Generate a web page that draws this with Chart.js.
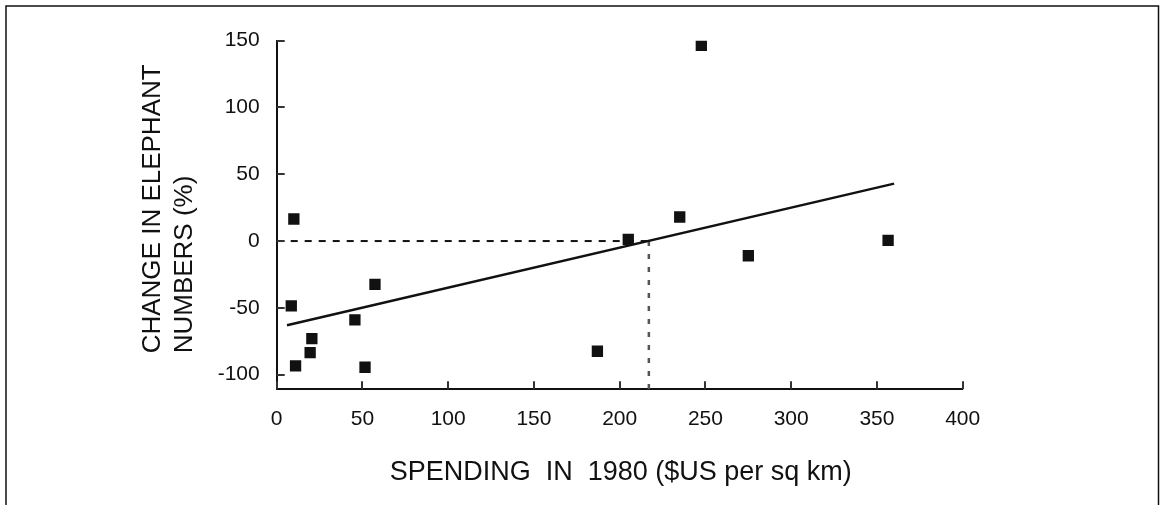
<!DOCTYPE html>
<html>
<head>
<meta charset="utf-8">
<script src="https://cdn.jsdelivr.net/npm/chart.js@4/dist/chart.umd.min.js"></script>
<style>
    html, body { margin: 0; padding: 0; background: #fff; }
    #wrap { width: 1160px; height: 505px; }
</style>
</head>
<body>
<div id="wrap"><canvas id="elephantChart" width="1160" height="505"></canvas></div>
<script>
// spending per sq km (1980) vs change in elephant numbers
const spending = [247.6, 235, 205, 275, 356.5, 187, 10, 8.5, 20.5, 19.5, 11, 51.5, 45.6, 57.3];
const change   = [146.5, 18, 1.3, -11, 0.5, -82.5, 16.5, -48.5, -73, -83.5, -93.5, -94.5, -59, -32.5];

// fitted line end points
const trendX = [6, 360];
const trendY = [-63, 43];

// break-even spending (where the fit crosses 0)
const breakEvenX = 217;
const yAxisMin = -111;

const xTicks = [0, 50, 100, 150, 200, 250, 300, 350, 400];
const yTicks = [-100, -50, 0, 50, 100, 150];

const xTitle = 'SPENDING  IN  1980 ($US per sq km)';
const yTitle = ['CHANGE IN ELEPHANT', 'NUMBERS (%)'];

const FONT = '"Liberation Sans", Arial, sans-serif';

const inkPlugin = {
    id: 'ink',
    beforeDraw(chart) {
        const ctx = chart.ctx;
        ctx.save();
        ctx.strokeStyle = '#111';
        ctx.lineWidth = 1.5;
        ctx.strokeRect(6, 6, 1152.5, 520);
        ctx.restore();
    },
    afterDraw(chart) {
        const ctx = chart.ctx;
        const area = chart.chartArea;
        const xs = chart.scales.x, ys = chart.scales.y;
        ctx.save();
        // inward tick marks
        ctx.strokeStyle = '#333';
        ctx.lineWidth = 2;
        xTicks.forEach(v => {
            const px = Math.round(xs.getPixelForValue(v));
            ctx.beginPath();
            ctx.moveTo(px, area.bottom);
            ctx.lineTo(px, area.bottom - 8);
            ctx.stroke();
        });
        yTicks.forEach(v => {
            const py = Math.round(ys.getPixelForValue(v));
            ctx.beginPath();
            ctx.moveTo(area.left, py);
            ctx.lineTo(area.left + 8, py);
            ctx.stroke();
        });

        // axis titles
        ctx.fillStyle = '#111';
        ctx.font = '27px ' + FONT;
        ctx.textAlign = 'left';
        ctx.textBaseline = 'alphabetic';
        ctx.fillText(xTitle, area.left + 113, area.bottom + 91);

        ctx.font = '26px ' + FONT;
        ctx.translate(area.left - 124, area.bottom - 36);
        ctx.rotate(-Math.PI / 2);
        ctx.textBaseline = 'middle';
        ctx.fillText(yTitle[0], 0, 0);
        ctx.fillText(yTitle[1], 0, 32);
        ctx.restore();
    }
};

const points = spending.map((x, i) => ({ x: x, y: change[i] }));

new Chart(document.getElementById('elephantChart'), {
    type: 'scatter',
    data: {
        datasets: [
            {
                data: points,
                pointStyle: 'rect',
                pointRadius: 8,
                backgroundColor: '#111',
                borderColor: '#111',
                borderWidth: 0
            },
            {
                type: 'line',
                data: trendX.map((x, i) => ({ x: x, y: trendY[i] })),
                borderColor: '#111',
                borderWidth: 2.5,
                pointRadius: 0,
                fill: false
            },
            {
                type: 'line',
                data: [{ x: 0, y: 0 }, { x: breakEvenX, y: 0 }],
                borderColor: '#111',
                borderWidth: 2,
                borderDash: [7, 7],
                pointRadius: 0,
                fill: false
            },
            {
                type: 'line',
                data: [{ x: breakEvenX, y: 0 }, { x: breakEvenX, y: yAxisMin }],
                borderColor: '#555',
                borderWidth: 2.5,
                borderDash: [5, 8],
                pointRadius: 0,
                fill: false
            }
        ]
    },
    options: {
        responsive: false,
        animation: false,
        layout: { padding: { left: 206.7, top: 40.7, right: 197.3, bottom: 65.7 } },
        plugins: {
            legend: { display: false },
            tooltip: { enabled: false }
        },
        scales: {
            x: {
                type: 'linear',
                min: 0,
                max: 400,
                afterFit(scale) { scale.height = 50; },
                afterBuildTicks(scale) { scale.ticks = xTicks.map(v => ({ value: v })); },
                grid: { display: false, drawTicks: false },
                border: { display: true, color: '#111', width: 2 },
                ticks: {
                    padding: 17,
                    color: '#111',
                    font: { family: FONT, size: 21 },
                    maxRotation: 0
                }
            },
            y: {
                type: 'linear',
                min: yAxisMin,
                max: 150,
                afterFit(scale) { scale.width = 70; },
                afterBuildTicks(scale) { scale.ticks = yTicks.map(v => ({ value: v })); },
                grid: { display: false, drawTicks: false },
                border: { display: true, color: '#111', width: 2 },
                ticks: {
                    padding: 17,
                    color: '#111',
                    font: { family: FONT, size: 21 }
                }
            }
        }
    },
    plugins: [inkPlugin]
});
</script>
</body>
</html>
